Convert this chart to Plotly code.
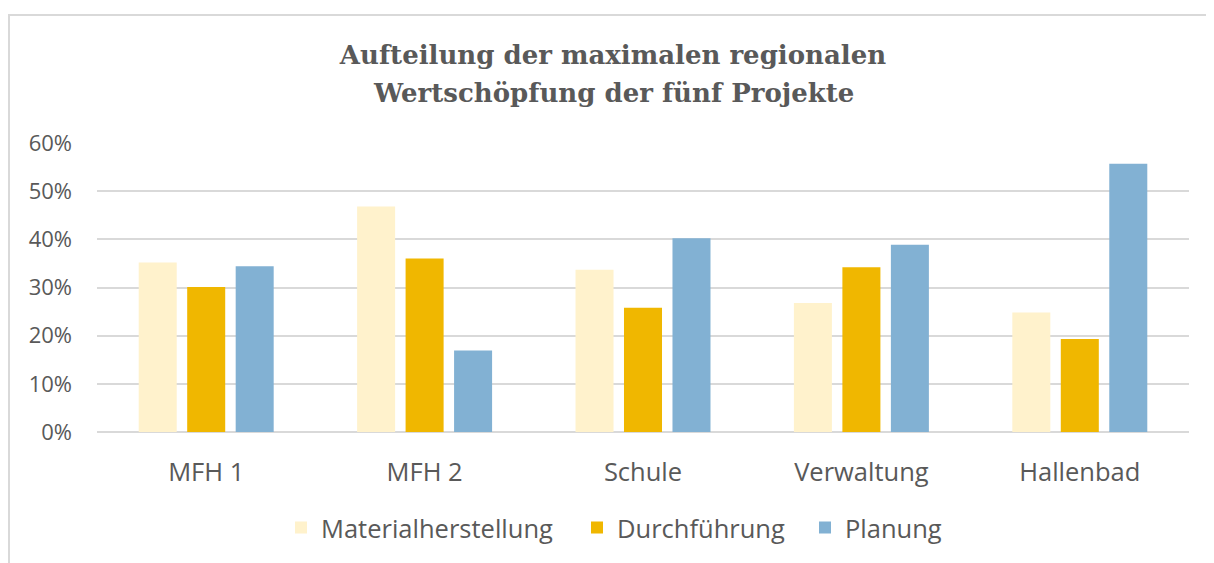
import plotly.graph_objects as go

categories = ["MFH 1", "MFH 2", "Schule", "Verwaltung", "Hallenbad"]
materialherstellung = [0.352, 0.468, 0.337, 0.268, 0.248]
durchfuehrung = [0.301, 0.360, 0.258, 0.342, 0.193]
planung = [0.344, 0.169, 0.402, 0.389, 0.557]
series_names = ["Materialherstellung", "Durchführung", "Planung"]
colors = ["#FFF2CC", "#F0B700", "#82B1D3"]
y_ticks = [0, 0.1, 0.2, 0.3, 0.4, 0.5, 0.6]
title_lines = ["Aufteilung der maximalen regionalen", "Wertschöpfung der fünf Projekte"]

W, H = 1206, 555
L, R, T, B = 89, 25, 135, 131
pw, ph = W - L - R, H - T - B

def py(pix):
    return (H - B - pix) / ph

def px(pix):
    return (pix - L) / pw

legend_ids = ["legend", "legend2", "legend3"]
legend_text_left = [318, 614, 842]

fig = go.Figure()
for name, vals, col, lg in zip(series_names, [materialherstellung, durchfuehrung, planung], colors, legend_ids):
    fig.add_trace(go.Bar(name=name, x=categories, y=vals, legend=lg,
                         marker=dict(color=col, line=dict(width=0))))

title_font = dict(family="DejaVu Serif", size=26, color="#595959", weight="bold")
legend_common = dict(orientation="h", xanchor="left", yanchor="middle", xref="paper",
                     font=dict(size=25.5, color="#595959"), itemwidth=30,
                     bgcolor="rgba(0,0,0,0)", borderwidth=0)

legends = {}
for lg, tl in zip(legend_ids, legend_text_left):
    legends[lg] = dict(legend_common, x=px(tl - 45), y=py(520))

fig.update_layout(
    width=W, height=H,
    margin=dict(l=L, r=R, t=T, b=B),
    paper_bgcolor="white", plot_bgcolor="white",
    barmode="group", bargap=0.334, bargroupgap=0.216,
    title=dict(text=title_lines[0], x=605 / W, xanchor="center", xref="container",
               y=1 - 47 / H, yanchor="middle", font=title_font),
    annotations=[dict(text=title_lines[1], x=px(605), xref="paper", y=py(85), yref="paper",
                      xanchor="center", yanchor="middle", showarrow=False, font=title_font)],
    font=dict(family="Open Sans", color="#595959", size=22),
    xaxis=dict(showgrid=False, showline=False, ticks="", ticklabelstandoff=22,
               tickfont=dict(size=25.5, color="#595959")),
    yaxis=dict(range=[0, 0.6], tickvals=y_ticks, tickformat=".0%", showgrid=True,
               gridcolor="#D9D9D9", gridwidth=1.5, zeroline=True, zerolinecolor="#D9D9D9",
               zerolinewidth=1.5, ticks="", ticklabelstandoff=24,
               tickfont=dict(size=22, color="#595959")),
    showlegend=True,
    shapes=[dict(type="rect", xref="paper", yref="paper",
                 x0=px(1), x1=px(1205), y0=py(600), y1=py(7),
                 line=dict(color="#D9D9D9", width=2), fillcolor="rgba(0,0,0,0)", layer="below")],
    **legends,
)

fig.write_html("out.html")
